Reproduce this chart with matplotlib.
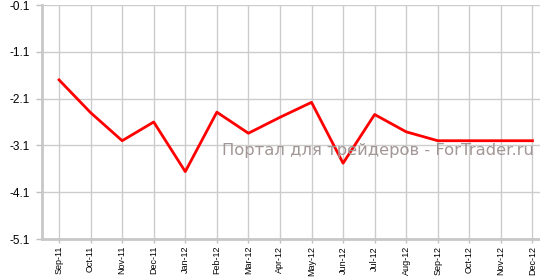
import matplotlib
matplotlib.use('Agg')
from matplotlib import pyplot as plt

months = ['Sep-11', 'Oct-11', 'Nov-11', 'Dec-11', 'Jan-12', 'Feb-12', 'Mar-12', 'Apr-12',
          'May-12', 'Jun-12', 'Jul-12', 'Aug-12', 'Sep-12', 'Oct-12', 'Nov-12', 'Dec-12']
values = [-1.7, -2.4, -3.0, -2.6, -3.66, -2.39, -2.84, -2.5,
          -2.18, -3.48, -2.44, -2.81, -3.0, -3.0, -3.0, -3.0]
yticks = [-0.1, -1.1, -2.1, -3.1, -4.1, -5.1]

W, H = 540, 277
fig = plt.figure(figsize=(W / 100, H / 100), dpi=100)
ax = fig.add_axes([42 / W, 1 - 239 / H, (W - 42) / W, (239 - 5) / H])

x = list(range(len(months)))
ax.plot(x, values, color='#ff0000', linewidth=2, zorder=3)

ax.set_xlim(-0.54, 15.24)
ax.set_ylim(-5.1, -0.1)
ax.set_xticks(x)
ax.set_xticklabels(months, rotation=90, fontsize=6.5, family='Liberation Sans')
ax.set_yticks(yticks)
ax.set_yticklabels(['%.1f' % v for v in yticks], fontsize=8.5, family='Liberation Sans')

ax.grid(True, color='#cccccc', linewidth=1)
ax.set_axisbelow(True)
for s in ['top', 'right']:
    ax.spines[s].set_visible(False)
for s in ['left', 'bottom']:
    ax.spines[s].set_color('#c8c8c8')
    ax.spines[s].set_linewidth(2)
ax.tick_params(axis='both', colors='#c0c0c0', labelcolor='black', length=4, width=1)
ax.tick_params(axis='y', pad=5)
ax.tick_params(axis='x', length=3, pad=2)

ax.text(0.988, 0.38, 'Портал для трейдеров - ForTrader.ru', transform=ax.transAxes,
        ha='right', va='center', fontsize=11.8, color='#a39696', zorder=4)

fig.savefig('out.png', dpi=100)
